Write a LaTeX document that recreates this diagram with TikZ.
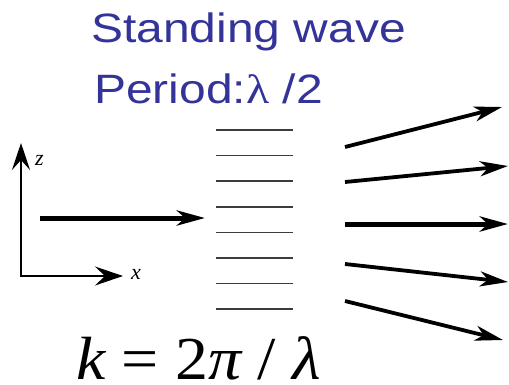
\documentclass[tikz,border=0pt]{standalone}
\usepackage{fontspec}
\setmainfont{Liberation Sans}
\newfontfamily\titlefont[FakeStretch=1.17]{Liberation Sans}
\newfontfamily\titlegreek[FakeStretch=1.17]{Liberation Serif}
\newfontfamily\timesfont{Liberation Serif}
\newfontfamily\formulafont[FakeStretch=1.08]{Liberation Serif}
\usetikzlibrary{arrows.meta}
\definecolor{titleblue}{HTML}{333399}
\definecolor{planegray}{HTML}{3C3C3C}

\begin{document}
\begin{tikzpicture}[x=1pt, y=-1pt,
  axis/.style={line width=1.3pt,
    {Stealth[length=27pt, width=18pt, inset=10pt]}-{Stealth[length=28pt, width=19pt, inset=10pt]}},
  beam/.style={line width=3.8pt, -{Stealth[length=28pt, width=15pt, inset=8pt]}},
  mainbeam/.style={beam, line width=5pt},
  plane/.style={planegray, line width=1.6pt},
  title/.style={titleblue, font=\titlefont\fontsize{41}{49}\selectfont, anchor=base west, inner sep=0pt},
  axlabel/.style={font=\timesfont\itshape\fontsize{22}{24}\selectfont, inner sep=0pt}]

\useasboundingbox (0,0) rectangle (509,384);

% ---- heading ------------------------------------------------------------
\node[title] (heading) at (91,42) {Standing wave};
\node[title] (period) at (94,103) {Period:{\titlegreek λ} /2};

% ---- axes ---------------------------------------------------------------
\coordinate (origin) at (21,276);
\coordinate (ztip) at (21,143);
\coordinate (xtip) at (123,276);
\draw[axis] (ztip) -- (origin) -- (xtip);
\node[axlabel, anchor=west] (zlabel) at (35,160) {z};
\node[axlabel, anchor=west] (xlabel) at (131,274) {x};

% ---- incident beam ------------------------------------------------------
\coordinate (inL) at (40,218);
\coordinate (inR) at (205,218);
\draw[mainbeam] (inL) -- (inR);

% ---- lattice planes -----------------------------------------------------
\foreach \i in {0,...,7}
  \draw[plane] (216,{130+25.6*\i}) -- (293,{130+25.6*\i});

% ---- diffracted beams ---------------------------------------------------
\foreach \n/\ys/\xe/\ye in {a/147/502/107, b/182/508/166, d/264/508/282, e/301/503/340} {
  \coordinate (out\n) at (345,\ys);
  \coordinate (tip\n) at (\xe,\ye);
  \draw[beam] (out\n) -- (tip\n);
}
\coordinate (outc) at (345,224);
\coordinate (tipc) at (508,224);
\draw[mainbeam] (outc) -- (tipc);

% ---- wave number --------------------------------------------------------
\node[font=\formulafont\fontsize{61}{64}\selectfont, anchor=base west, inner sep=0pt]
  (wavenum) at (76,379) {{\itshape k} = 2{\itshape π} / {\itshape λ}};

\end{tikzpicture}
\end{document}
